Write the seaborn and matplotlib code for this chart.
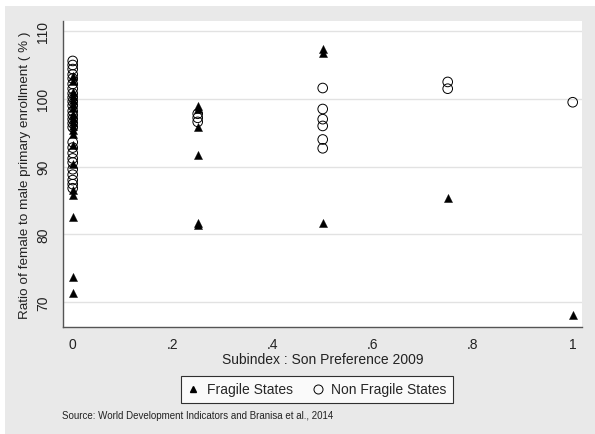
import matplotlib
matplotlib.use("Agg")
import matplotlib.pyplot as plt
from matplotlib.lines import Line2D
from matplotlib.patches import Rectangle
import numpy as np
import pandas as pd
import seaborn as sns

# Son preference subindex (x) and female/male primary enrollment ratio (y)
fragile_x = [0] * 20 + [0.25] * 6 + [0.5] * 3 + [0.75] + [1]
fragile_y = [103.4, 102.6, 101.0, 100.4, 99.8, 99.2, 98.6, 97.8, 97.2, 96.6,
             96.0, 95.4, 94.8, 93.2, 90.4, 86.6, 85.8, 82.5, 73.7, 71.3,
             99.0, 98.5, 95.8, 91.7, 81.7, 81.3,
             107.3, 106.8, 81.7,
             85.3,
             68.0]

nonfragile_x = [0] * 26 + [0.25] * 3 + [0.5] * 6 + [0.75] * 2 + [1]
nonfragile_y = [105.6, 105.0, 104.4, 103.6, 103.0, 102.2, 101.5, 100.8, 100.2, 99.6,
                99.0, 98.2, 97.6, 97.0, 96.4, 95.8, 93.6, 92.8, 92.0, 91.2,
                90.6, 89.6, 88.8, 88.0, 87.4, 86.8,
                97.8, 97.2, 96.6,
                101.6, 98.5, 97.0, 96.0, 94.0, 92.7,
                102.5, 101.5,
                99.5]

x_ticks = [0, 0.2, 0.4, 0.6, 0.8, 1]
x_ticklabels = ["0", ".2", ".4", ".6", ".8", "1"]
y_ticks = [70, 80, 90, 100, 110]

fragile = pd.DataFrame({"x": fragile_x, "y": fragile_y})
nonfragile = pd.DataFrame({"x": nonfragile_x, "y": nonfragile_y})

sns.set_style("white")
plt.rcParams["font.family"] = ["Liberation Sans", "DejaVu Sans"]

W, H = 595, 435
fig = plt.figure(figsize=(W / 100, H / 100), dpi=100)
fig.patch.set_facecolor("white")
fig.patches.append(Rectangle((5 / W, 0), 1 - 5 / W, 1 - 7 / H, transform=fig.transFigure,
                             facecolor="#e9e9e9", edgecolor="none", zorder=-10))

def px(x0, y0, x1, y1):
    return [x0 / W, 1 - y1 / H, (x1 - x0) / W, (y1 - y0) / H]

ax = fig.add_axes(px(63, 22, 582, 328))
ax.set_facecolor("white")

sns.scatterplot(data=nonfragile, x="x", y="y", ax=ax, marker="o", s=48,
                facecolor="none", edgecolor="black", linewidth=0.7, zorder=3)
sns.scatterplot(data=fragile, x="x", y="y", ax=ax, marker="^", s=34,
                color="black", edgecolor="black", linewidth=0.3, zorder=4)

ax.set_xlim(-0.0194, 1.0186)
ax.set_ylim(66.3, 111.5)
ax.set_xticks(x_ticks)
ax.set_xticklabels(x_ticklabels)
ax.set_yticks(y_ticks)
ax.set_yticklabels([str(v) for v in y_ticks], rotation=90, va="center")
ax.yaxis.grid(True, color="#e2e2e2", linewidth=1.0, zorder=0)
ax.xaxis.grid(False)
ax.set_axisbelow(True)

for side in ("top", "right"):
    ax.spines[side].set_visible(False)
for side in ("left", "bottom"):
    ax.spines[side].set_color("#555555")
    ax.spines[side].set_linewidth(1.0)

ax.tick_params(axis="both", direction="out", length=4, width=0.8, color="#333333",
               labelsize=10, labelcolor="#222222")
ax.tick_params(axis="y", pad=5)
ax.tick_params(axis="x", pad=3)
ax.set_xlabel("Subindex : Son Preference 2009", fontsize=10, color="#222222", labelpad=1)
ax.set_ylabel("Ratio of female to male primary enrollment ( % )", fontsize=9.7,
              color="#222222", labelpad=4)

handles = [
    Line2D([], [], marker="^", linestyle="none", color="black", markersize=5),
    Line2D([], [], marker="o", linestyle="none", markerfacecolor="none",
           markeredgecolor="black", markeredgewidth=0.7, markersize=6.5),
]
leg = fig.legend(handles, ["Fragile States", "Non Fragile States"], ncol=2,
                 loc="center", bbox_to_anchor=(317 / W, 1 - 390.5 / H),
                 frameon=True, fancybox=False, fontsize=10, handletextpad=0.5,
                 columnspacing=1.4, handlelength=0.9, borderpad=0.45)
leg.get_frame().set_edgecolor("black")
leg.get_frame().set_linewidth(0.8)
leg.get_frame().set_facecolor("white")

fig.text(62 / W, 1 - 416 / H, "Source: World Development Indicators and Branisa et al., 2014",
         fontsize=7, color="#222222", va="center", ha="left")

fig.savefig("out.png", dpi=100)
